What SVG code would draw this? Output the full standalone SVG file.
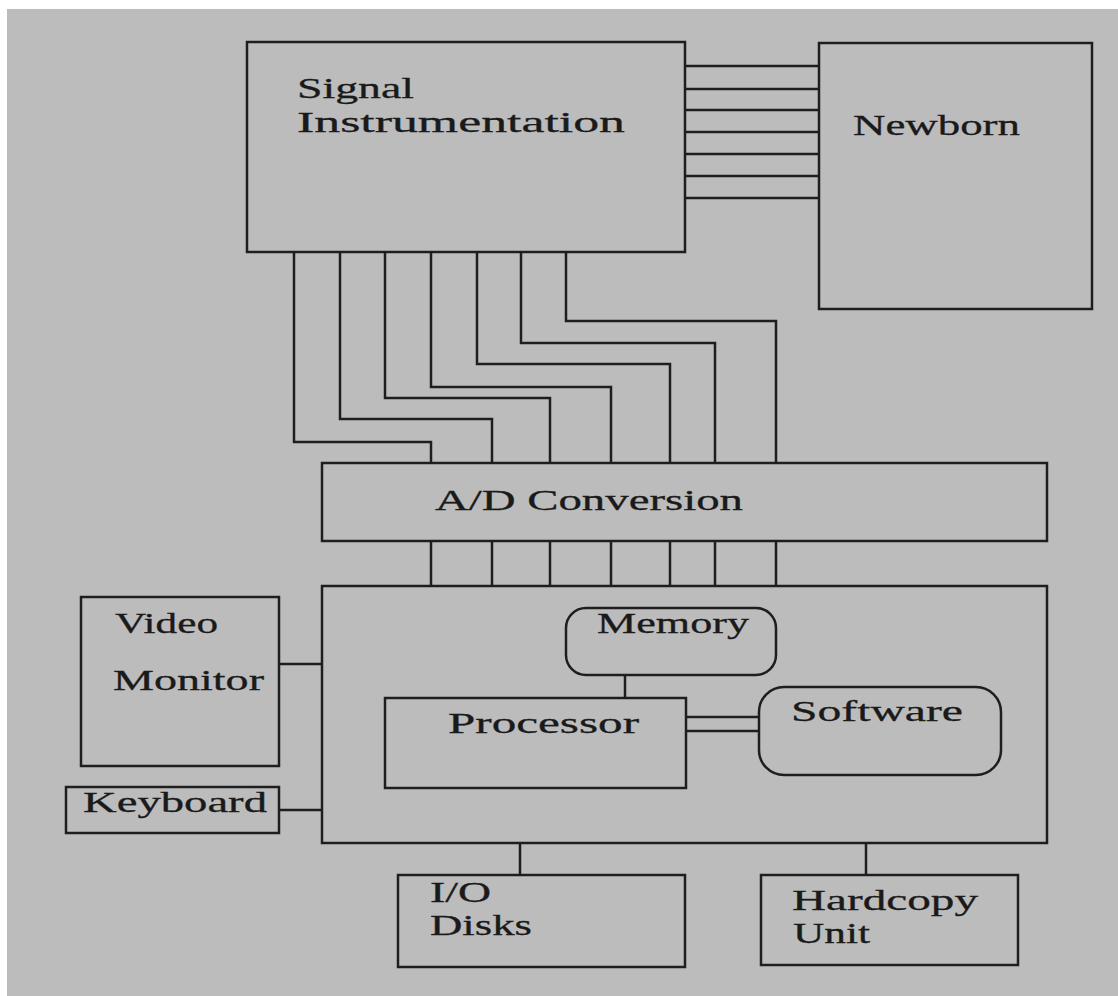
<svg xmlns="http://www.w3.org/2000/svg" width="1118" height="996" viewBox="0 0 1118 996">
<style>
.bx{fill:none;stroke:#1e1e1e;stroke-width:2.5}
.ln{fill:none;stroke:#1e1e1e;stroke-width:2.5}
.t{font-family:"Liberation Serif","Times New Roman",serif;font-size:30px;fill:#1a1a1a;stroke:#1a1a1a;stroke-width:0.3}
</style>
<rect x="0" y="0" width="1118" height="996" fill="#ffffff"/>
<rect x="7" y="9" width="1111" height="987" fill="#bcbcbc"/>
<g id="connectors">
<path class="ln" d="M685 66H819M685 89H819M685 110H819M685 132H819M685 154H819M685 176H819M685 198H819"/>
<path class="ln" d="M294 252V442H431V463M340 252V419H492V463M385 252V398H550V463M431 252V387H611V463M477 252V364H670V463M521 252V343H715V463M566 252V321H776V463"/>
<path class="ln" d="M431 541V586M492 541V586M550 541V586M611 541V586M670 541V586M715 541V586M776 541V586"/>
<path class="ln" d="M279 664H322M279 810H322"/>
<path class="ln" d="M625 675V698M686 717H759M686 731H759"/>
<path class="ln" d="M520 843V875M866 843V875"/>
</g>
<g id="signal"><rect class="bx" x="247" y="42" width="438" height="210"/>
<text class="t" x="297" y="98" textLength="117" lengthAdjust="spacingAndGlyphs">Signal</text><text class="t" x="297" y="132" textLength="328" lengthAdjust="spacingAndGlyphs">Instrumentation</text></g>
<g id="newborn"><rect class="bx" x="819" y="43" width="273" height="266"/>
<text class="t" x="853" y="135" textLength="167" lengthAdjust="spacingAndGlyphs">Newborn</text></g>
<g id="ad"><rect class="bx" x="322" y="463" width="725" height="78"/>
<text class="t" x="435" y="510" textLength="308" lengthAdjust="spacingAndGlyphs">A/D Conversion</text></g>
<g id="computer"><rect class="bx" x="322" y="586" width="725" height="257"/></g>
<g id="memory"><rect class="bx" x="566" y="608" width="210" height="67" rx="20"/>
<text class="t" x="597" y="633" textLength="152" lengthAdjust="spacingAndGlyphs">Memory</text></g>
<g id="processor"><rect class="bx" x="385" y="698" width="301" height="90"/>
<text class="t" x="448" y="733" textLength="191" lengthAdjust="spacingAndGlyphs">Processor</text></g>
<g id="software"><rect class="bx" x="759" y="687" width="242" height="88" rx="25"/>
<text class="t" x="791" y="721" textLength="172" lengthAdjust="spacingAndGlyphs">Software</text></g>
<g id="video"><rect class="bx" x="81" y="597" width="198" height="169"/>
<text class="t" x="115" y="633" textLength="103" lengthAdjust="spacingAndGlyphs">Video</text><text class="t" x="113" y="690" textLength="151" lengthAdjust="spacingAndGlyphs">Monitor</text></g>
<g id="keyboard"><rect class="bx" x="66" y="787" width="213" height="46"/>
<text class="t" x="83" y="812" textLength="184" lengthAdjust="spacingAndGlyphs">Keyboard</text></g>
<g id="io"><rect class="bx" x="398" y="875" width="287" height="92"/>
<text class="t" x="430" y="902" textLength="61" lengthAdjust="spacingAndGlyphs">I/O</text><text class="t" x="430" y="935" textLength="102" lengthAdjust="spacingAndGlyphs">Disks</text></g>
<g id="hardcopy"><rect class="bx" x="761" y="875" width="257" height="90"/>
<text class="t" x="792" y="910" textLength="186" lengthAdjust="spacingAndGlyphs">Hardcopy</text><text class="t" x="793" y="943" textLength="77" lengthAdjust="spacingAndGlyphs">Unit</text></g>
</svg>
